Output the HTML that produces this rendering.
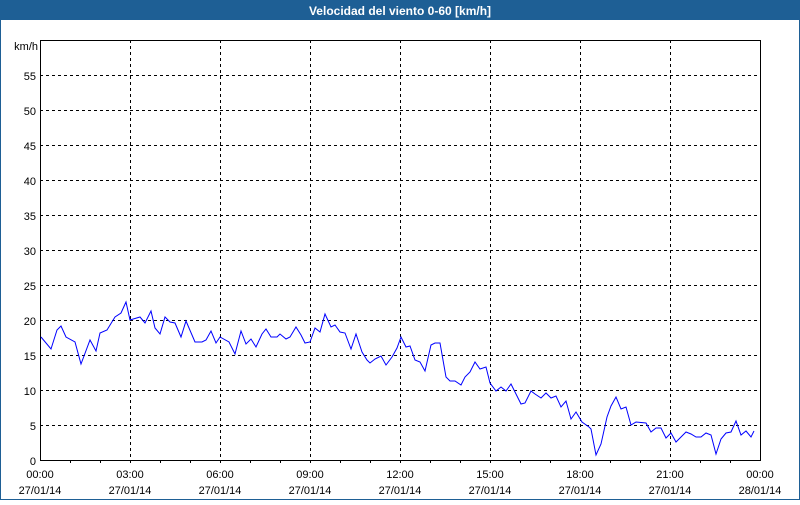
<!DOCTYPE html>
<html><head><meta charset="utf-8"><style>
body{margin:0;width:800px;height:500px;overflow:hidden;background:#fff;font-family:"Liberation Sans",sans-serif}
</style></head><body>
<svg width="800" height="500" xmlns="http://www.w3.org/2000/svg" font-family="Liberation Sans, sans-serif" font-size="11">
<rect x="0" y="0" width="800" height="500" fill="#fff"/>
<rect x="0.5" y="0.5" width="799" height="499" fill="none" stroke="#1e5f95"/>
<rect x="0" y="0" width="800" height="20" fill="#1e5f95"/>
<text x="400" y="15" fill="#fff" font-weight="bold" font-size="12" text-anchor="middle">Velocidad del viento 0-60 [km/h]</text>
<g stroke="#000" stroke-dasharray="3,3" stroke-width="1">
<line x1="40" y1="75.5" x2="760" y2="75.5"/><line x1="40" y1="110.5" x2="760" y2="110.5"/>
<line x1="40" y1="145.5" x2="760" y2="145.5"/><line x1="40" y1="180.5" x2="760" y2="180.5"/>
<line x1="40" y1="215.5" x2="760" y2="215.5"/><line x1="40" y1="250.5" x2="760" y2="250.5"/>
<line x1="40" y1="285.5" x2="760" y2="285.5"/><line x1="40" y1="320.5" x2="760" y2="320.5"/>
<line x1="40" y1="355.5" x2="760" y2="355.5"/><line x1="40" y1="390.5" x2="760" y2="390.5"/>
<line x1="40" y1="425.5" x2="760" y2="425.5"/>
<line x1="130.5" y1="40" x2="130.5" y2="460"/><line x1="220.5" y1="40" x2="220.5" y2="460"/>
<line x1="310.5" y1="40" x2="310.5" y2="460"/><line x1="400.5" y1="40" x2="400.5" y2="460"/>
<line x1="490.5" y1="40" x2="490.5" y2="460"/><line x1="580.5" y1="40" x2="580.5" y2="460"/>
<line x1="670.5" y1="40" x2="670.5" y2="460"/>
</g>
<g stroke="#000">
<path d="M70.5 460v3M100.5 460v3M130.5 460v3M160.5 460v3M190.5 460v3M220.5 460v3M250.5 460v3M280.5 460v3M310.5 460v3M340.5 460v3M370.5 460v3M400.5 460v3M430.5 460v3M460.5 460v3M490.5 460v3M520.5 460v3M550.5 460v3M580.5 460v3M610.5 460v3M640.5 460v3M670.5 460v3M700.5 460v3M730.5 460v3"/>
</g>
<rect x="40.5" y="40.5" width="720" height="420" fill="none" stroke="#000"/>
<polyline fill="none" stroke="#0000ff" stroke-width="1" points="41,337 51,349 57,330 61,326 66,337 75,342 81,364 90,340 96,351 100,333 107,330 115,317 121,313 126,302 130,320 140,317 145,323 151,311 155,328 160,334 165,317 170,322 175,323 181,337 186,321 195,342 202,342 206,340 211,331 216,343 220,337 229,342 235,354 241,331 246,344 251,339 256,347 262,334 266,329 271,337 277,337 280,334 286,339 290,337 296,327 301,335 305,343 310,342 315,328 320,332 325,314 331,327 335,325 340,332 345,333 351,349 356,334 362,352 367,360 370,363 375,359 381,356 386,365 392,357 397,348 401,337 406,347 410,346 415,360 420,362 425,371 431,345 435,343 440,343 446,377 450,381 455,381 461,385 465,377 470,372 475,362 480,369 486,367 490,383 496,391 501,387 506,391 511,384 516,394 521,404 525,403 531,391 535,394 541,398 546,393 551,398 556,396 561,407 566,401 571,419 576,412 582,422 589,427 591,429 596,455 601,444 607,417 611,406 616,397 621,409 626,407 631,425 636,422 646,423 651,432 656,428 661,428 666,438 671,433 676,442 681,437 686,432 691,434 696,437 701,437 706,433 711,435 716,454 721,439 726,433 731,432 736,421 741,435 746,431 751,437 754,431"/>
<g text-anchor="end" fill="#000">
<text x="38" y="50">km/h</text>
<text x="36" y="80">55</text><text x="36" y="115">50</text><text x="36" y="150">45</text>
<text x="36" y="185">40</text><text x="36" y="220">35</text><text x="36" y="255">30</text>
<text x="36" y="290">25</text><text x="36" y="325">20</text><text x="36" y="360">15</text>
<text x="36" y="395">10</text><text x="36" y="430">5</text><text x="36" y="465">0</text>
</g>
<g text-anchor="middle" fill="#000">
<text x="40" y="478">00:00</text><text x="40" y="494">27/01/14</text>
<text x="130" y="478">03:00</text><text x="130" y="494">27/01/14</text>
<text x="220" y="478">06:00</text><text x="220" y="494">27/01/14</text>
<text x="310" y="478">09:00</text><text x="310" y="494">27/01/14</text>
<text x="400" y="478">12:00</text><text x="400" y="494">27/01/14</text>
<text x="490" y="478">15:00</text><text x="490" y="494">27/01/14</text>
<text x="580" y="478">18:00</text><text x="580" y="494">27/01/14</text>
<text x="670" y="478">21:00</text><text x="670" y="494">27/01/14</text>
<text x="760" y="478">00:00</text><text x="760" y="494">28/01/14</text>
</g>
</svg>
</body></html>
